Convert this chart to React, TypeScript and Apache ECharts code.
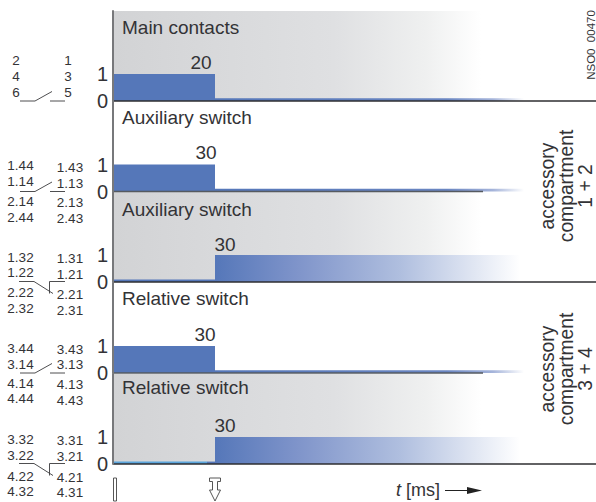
import React, { useEffect, useRef } from "react";
import * as echarts from "echarts";

// ---- data ----
const panelTitles = ["Main contacts", "Auxiliary switch", "Auxiliary switch", "Relative switch", "Relative switch"];
const durationLabels = ["20", "30", "30", "30", "30"];
// time axis is schematic: arbitrary units, not to scale
const timeSpan = 483;
const switchTime = 102;
const pulseEnd = 407;
const residualEnd = 411;
const residualLevel = 0.1;
const lowLevel = 0.09;
const backgroundEnd = 368;
// [start, end, level]
const solidPulses = [
  [[0, switchTime, 1]],
  [[0, switchTime, 1]],
  [],
  [[0, switchTime, 1]],
  [],
];
const residuals = [
  [[switchTime, residualEnd, residualLevel]],
  [[switchTime, residualEnd, residualLevel]],
  [[0, switchTime, lowLevel]],
  [[switchTime, residualEnd, residualLevel]],
  [[94, switchTime, lowLevel]],
];
const lowTraces = [[], [], [], [], [[0, 94, lowLevel]]];
const fadingPulses = [[], [], [[switchTime, pulseEnd, 1]], [], [[switchTime, pulseEnd, 1]]];
const shaded = [[[0, backgroundEnd, 3.33]], [], [[0, backgroundEnd, 3.33]], [], [[0, backgroundEnd, 3.33]]];
const baselineEnds = [483, 370, 483, 370, 483];
const yTicks = [0, 1];

const contactLeft1 = ["2", "4", "6"];
const contactRight1 = ["1", "3", "5"];
const contactLeft2 = ["1.44", "1.14", "2.14", "2.44"];
const contactRight2 = ["1.43", "1.13", "2.13", "2.43"];
const contactLeft3 = ["1.32", "1.22", "2.22", "2.32"];
const contactRight3 = ["1.31", "1.21", "2.21", "2.31"];
const contactLeft4 = ["3.44", "3.14", "4.14", "4.44"];
const contactRight4 = ["3.43", "3.13", "4.13", "4.43"];
const contactLeft5 = ["3.32", "3.22", "4.22", "4.32"];
const contactRight5 = ["3.31", "3.21", "4.21", "4.31"];
const compartment12 = ["accessory", "compartment", "1 + 2"];
const compartment34 = ["accessory", "compartment", "3 + 4"];
const drawingCode = "NSO0  00470";

// ---- layout ----
const FONT = '"Liberation Sans", Arial, sans-serif';
const INK = "#333336";
const BLUE = "#5577b9";
const baselines = [101, 191.5, 282, 373, 464];
const panelH = 90;
const unit = 27;
const titleY = [27, 117, 209, 298, 387];
const valueX = [201, 206, 225, 205, 225];
const valueY = [62, 152, 244, 334, 425];

const fadeBar = () =>
  new echarts.graphic.LinearGradient(0, 0, 1, 0, [
    { offset: 0, color: BLUE },
    { offset: 0.27, color: "#7f94ca" },
    { offset: 0.61, color: "#b0bfdf" },
    { offset: 1, color: "#ffffff" },
  ]);
const fadeThin = () =>
  new echarts.graphic.LinearGradient(0, 0, 1, 0, [
    { offset: 0, color: BLUE },
    { offset: 0.75, color: "#6a86c2" },
    { offset: 0.9, color: "#a5b4da" },
    { offset: 1, color: "#ffffff" },
  ]);
const fadeGrey = () =>
  new echarts.graphic.LinearGradient(0, 0, 1, 0, [
    { offset: 0, color: "#d2d3d5" },
    { offset: 0.6, color: "#dfe0e2" },
    { offset: 0.85, color: "#eff0f0" },
    { offset: 1, color: "#ffffff" },
  ]);

const rectSeries = (gi: number, data: number[][], fill: () => any, z: number) => ({
  type: "custom",
  xAxisIndex: gi,
  yAxisIndex: gi,
  z,
  silent: true,
  clip: false,
  data,
  encode: { x: [0, 1], y: 2 },
  renderItem: (_: any, api: any) => {
    const a = api.coord([api.value(0), api.value(2)]);
    const b = api.coord([api.value(1), 0]);
    return {
      type: "rect",
      shape: { x: a[0], y: a[1], width: b[0] - a[0], height: b[1] - a[1] },
      style: { fill: fill() },
    };
  },
});

const baselineSeries = (gi: number) => ({
  type: "custom",
  xAxisIndex: gi,
  yAxisIndex: gi,
  z: 9,
  silent: true,
  clip: false,
  data: [[0, baselineEnds[gi], 0]],
  encode: { x: [0, 1], y: 2 },
  renderItem: (_: any, api: any) => {
    const a = api.coord([api.value(0), 0]);
    const b = api.coord([api.value(1), 0]);
    return {
      type: "line",
      shape: { x1: a[0], y1: a[1], x2: b[0], y2: b[1] },
      style: { stroke: baselineEnds[gi] < timeSpan ? "#555a60" : "#2e2e30", lineWidth: 1.3 },
    };
  },
});

const txt = (text: string, x: number, y: number, fontSize: number, align = "center", extra: any = {}) => ({
  type: "text",
  x,
  y,
  silent: true,
  style: { text, fontSize, fontFamily: FONT, fill: INK, align, verticalAlign: "middle", ...extra },
});
const vtxt = (text: string, x: number, y: number, fontSize: number) => ({
  ...txt(text, x, y, fontSize),
  rotation: Math.PI / 2,
});
const column = (labels: string[], x: number, ys: number[]) => labels.map((l, i) => txt(l, x, ys[i], 13.5));
const stroke = { stroke: "#3a3a3c", lineWidth: 0.9, fill: "none" };
const poly = (points: number[][]) => ({ type: "polyline", silent: true, shape: { points }, style: stroke });

const normallyOpen = (y: number) => [
  poly([[20, y], [35, y], [52, y - 9.5]]),
  poly([[50, y], [65, y]]),
];
const normallyClosed = (y: number) => [
  poly([[19, y], [34, y], [53, y + 12]]),
  poly([[49.5, y + 12], [49.5, y], [65, y]]),
];

const graphics: any[] = [
  ...panelTitles.map((t, i) => txt(t, 122, titleY[i], 19, "left")),
  ...durationLabels.map((t, i) => txt(t, valueX[i], valueY[i], 19)),
  ...column(contactLeft1, 16, [60.5, 76.5, 92]),
  ...column(contactRight1, 68, [60.5, 76.5, 92]),
  ...column(contactLeft2, 20.5, [165.5, 181.5, 201.5, 217]),
  ...column(contactRight2, 70, [167, 183, 202.5, 218]),
  ...column(contactLeft3, 20.5, [257, 272.5, 292.5, 308.5]),
  ...column(contactRight3, 70, [258, 274, 294, 310]),
  ...column(contactLeft4, 20.5, [348, 364, 383, 398.5]),
  ...column(contactRight4, 70, [349, 364.5, 384, 400]),
  ...column(contactLeft5, 20.5, [439, 455, 476, 491.5]),
  ...column(contactRight5, 70, [440, 456.5, 477, 492.5]),
  ...normallyOpen(101),
  ...normallyOpen(191.5),
  ...normallyClosed(281.5),
  ...normallyOpen(373),
  ...normallyClosed(463.5),
  ...compartment12.map((t, i) => vtxt(t, 547 + i * 19.2, 186, 19.3)),
  ...compartment34.map((t, i) => vtxt(t, 547 + i * 19.2, 369, 19.3)),
  vtxt(drawingCode, 591, 45, 11.5),
  // time axis caption
  txt("t", 396, 490, 18, "left", { fontStyle: "italic" }),
  txt("[ms]", 406, 490, 18, "left"),
  { type: "line", silent: true, shape: { x1: 445, y1: 490.5, x2: 470, y2: 490.5 }, style: { stroke: "#222", lineWidth: 1 } },
  { type: "polygon", silent: true, shape: { points: [[467, 487], [482, 490.5], [467, 494]] }, style: { fill: "#222" } },
  // actuation marks
  { type: "rect", silent: true, shape: { x: 113.5, y: 478, width: 3, height: 23 }, style: { fill: "#fff", stroke: "#444", lineWidth: 0.9 } },
  {
    type: "polygon",
    silent: true,
    shape: {
      points: [[209.5, 478], [220.5, 478], [220.5, 481.5], [217.5, 481.5], [217.5, 490], [220.5, 490], [215, 501], [209.5, 490], [212.5, 490], [212.5, 481.5], [209.5, 481.5]],
    },
    style: { fill: "#fff", stroke: "#444", lineWidth: 0.9 },
  },
].map((e) => ({ ...e, z: 100 }));

export default function App() {
  const ref = useRef<HTMLDivElement>(null);
  useEffect(() => {
    const chart = echarts.init(ref.current!, null, { renderer: "svg" });
    const idx = baselines.map((_, i) => i);
    chart.setOption({
      animation: false,
      backgroundColor: "#ffffff",
      grid: baselines.map((b) => ({ left: 113, width: timeSpan, top: b - panelH, height: panelH })),
      xAxis: idx.map((i) => ({ type: "value", gridIndex: i, min: 0, max: timeSpan, show: false })),
      yAxis: idx.map((i) => ({
        type: "value",
        gridIndex: i,
        min: 0,
        max: panelH / unit,
        interval: 1,
        z: 10,
        splitLine: { show: false },
        axisTick: { show: false },
        axisLine: { show: true, onZero: false, lineStyle: { color: "#77787b", width: 2 } },
        axisLabel: {
          margin: 5,
          fontSize: 20,
          fontFamily: FONT,
          color: INK,
          showMaxLabel: false,
          formatter: (v: number) => (yTicks.includes(v) ? String(v) : ""),
        },
      })),
      series: idx.flatMap((i) => [
        rectSeries(i, shaded[i], fadeGrey, 1),
        rectSeries(i, residuals[i], () => (i === 2 || i === 4 ? BLUE : fadeThin()), 2),
        rectSeries(i, lowTraces[i], () => "#5ba5dc", 2),
        rectSeries(i, fadingPulses[i], fadeBar, 3),
        rectSeries(i, solidPulses[i], () => BLUE, 3),
        baselineSeries(i),
      ]),
      graphic: { elements: graphics },
    });
    return () => chart.dispose();
  }, []);
  return <div ref={ref} style={{ position: "fixed", left: 0, top: 0, width: 596, height: 502 }} />;
}
